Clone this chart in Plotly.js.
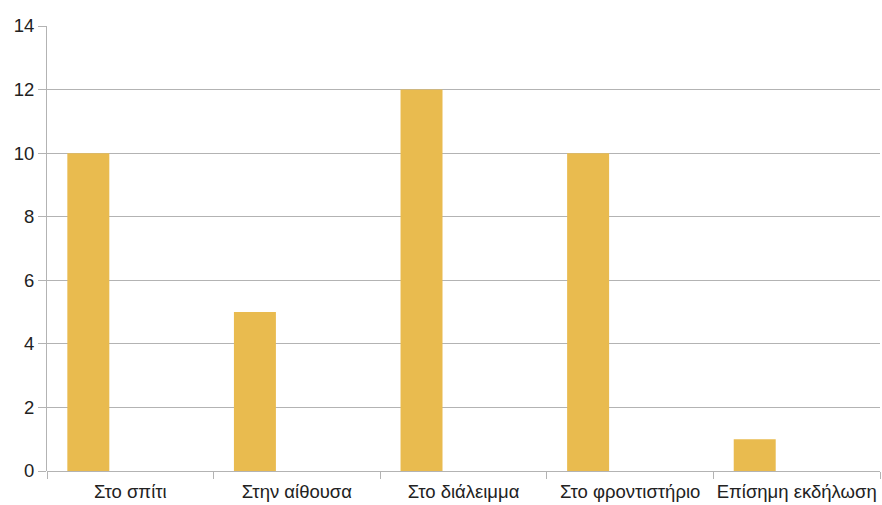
<!DOCTYPE html>
<html><head><meta charset="utf-8">
<script src="https://cdn.plot.ly/plotly-3.0.1.min.js"></script>
<style>html,body{margin:0;padding:0;background:#fff}</style>
</head><body><div id="chart" style="width:882px;height:505px"></div>
<script>
const categories = ["Στο σπίτι", "Στην αίθουσα", "Στο διάλειμμα", "Στο φροντιστήριο", "Επίσημη εκδήλωση"];
const values = [10, 5, 12, 10, 1];
const yTicks = [0, 2, 4, 6, 8, 10, 12, 14];

const trace = {
  type: 'bar', x: categories, y: values,
  marker: {color: '#e9bb4f', line: {width: 0}},
  offset: -0.378, width: 0.252,
  hoverinfo: 'x+y'
};
const layout = {
  width: 882, height: 505,
  margin: {l: 47, r: 2, t: 26, b: 34},
  paper_bgcolor: '#fff', plot_bgcolor: '#fff',
  showlegend: false,
  font: {family: 'Liberation Sans, Arial, sans-serif', size: 18.5, color: '#222'},
  xaxis: {
    type: 'category', tickson: 'boundaries', ticks: 'outside', ticklen: 7,
    tickcolor: '#b3b3b3', showgrid: false, showline: false, range: [-0.5, 4.5],
    tickangle: 0, ticklabelstandoff: 7, tickfont: {size: 18.5, color: '#222'}, automargin: false
  },
  yaxis: {
    range: [0, 14], tickvals: yTicks, ticks: 'outside', ticklen: 8, tickcolor: '#b3b3b3',
    gridcolor: '#b3b3b3', gridwidth: 1, showline: true, linecolor: '#b3b3b3', linewidth: 1,
    zeroline: true, zerolinecolor: '#b3b3b3', zerolinewidth: 1,
    tickfont: {size: 18.5, color: '#222'}, automargin: false
  }
};
Plotly.newPlot('chart', [trace], layout, {displayModeBar: false, staticPlot: true});
</script></body></html>
